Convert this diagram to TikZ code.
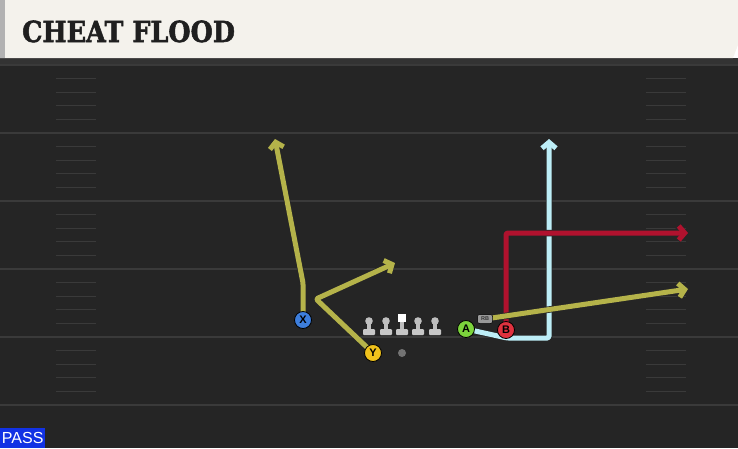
\documentclass[tikz,border=0pt]{standalone}
\usepackage{fontspec}
\usetikzlibrary{arrows.meta}
\newfontfamily\titlefont{DejaVu Serif}[BoldFeatures={FakeBold=2}]
\newfontfamily\tagfont{Liberation Sans}
\definecolor{headbg}{HTML}{F4F2EC}
\definecolor{fieldbg}{HTML}{252525}
\definecolor{yardline}{HTML}{3A3A3A}
\definecolor{hashline}{HTML}{3A3A3A}
\definecolor{rtyellow}{HTML}{B5B34A}
\definecolor{rtred}{HTML}{B0122E}
\definecolor{rtblue}{HTML}{BDEEF7}
\definecolor{pblue}{HTML}{3D7EDC}
\definecolor{pyellow}{HTML}{F0C21C}
\definecolor{pgreen}{HTML}{7CD43C}
\definecolor{pred}{HTML}{E0323F}
\definecolor{passblue}{HTML}{1232E4}
\pgfdeclarelayer{field}
\pgfdeclarelayer{routes}
\pgfsetlayers{field,routes,main}

\begin{document}
\begin{tikzpicture}[x=1pt,y=-1pt,
  player/.style={circle,draw=black,line width=0.8pt,minimum size=17pt,inner sep=0pt,
    font=\tagfont\bfseries\fontsize{11}{11}\selectfont},
  route/.style={line width=5pt,line join=round,rounded corners=1.5pt,
    -{Straight Barb[length=6pt,width=14pt]},
    preaction={draw=black!85,line width=6.5pt,-{Straight Barb[length=6pt,width=14pt]}}}]
\useasboundingbox (0,0) rectangle (738,448);

\begin{pgfonlayer}{field}
% field
\fill[fieldbg] (0,58) rectangle (738,448);
\fill[black!80] (0,58) rectangle (738,64);
% yard lines and hash marks
\draw[yardline,line width=1.5pt] (0,405) -- (738,405);
\foreach \yl in {65,133,201,269,337} {
  \draw[yardline,line width=1.5pt] (0,\yl) -- (738,\yl);
  \foreach \k in {1,2,3,4} {
    \draw[hashline,line width=1.2pt] (56,\yl+13.6*\k) -- (96,\yl+13.6*\k);
    \draw[hashline,line width=1.2pt] (646,\yl+13.6*\k) -- (686,\yl+13.6*\k);
  }
}
% header
\fill[headbg] (0,0) -- (738,0) -- (738,45) -- (733,58) -- (0,58) -- cycle;
\fill[black!30] (0,0) rectangle (5,58);
\end{pgfonlayer}

\node[anchor=base west,inner sep=0pt,text=black!88,xscale=0.88,
  font=\titlefont\bfseries\fontsize{29}{29}\selectfont] (title) at (22,42) {CHEAT FLOOD};

% line
\foreach \lx in {369,386,418,435} {
  \fill[black!25] (\lx,321) circle (3.8);
  \fill[black!25] (\lx-2,322) rectangle (\lx+2,330);
  \fill[black!22,rounded corners=1pt] (\lx-6,329) rectangle (\lx+6,335);
}
\fill[white] (398,314) rectangle (406,322);
\fill[black!25] (400,322) rectangle (404,330);
\fill[black!22,rounded corners=1pt] (396,329) rectangle (408,335);
\fill[black!55] (402,353) circle (4) node (ball) {};

% players
\node[player,fill=pblue] (X) at (303,320) {X};
\node[player,fill=pyellow] (Y) at (373,353) {Y};
\node[player,fill=pgreen] (A) at (466,329) {A};
\node[player,fill=pred] (B) at (506,330) {B};
\node[fill=black!40,draw=black,line width=0.5pt,rounded corners=2pt,inner sep=0pt,
  minimum width=15pt,minimum height=9pt,text=black!80,
  font=\tagfont\bfseries\fontsize{5.5}{5.5}\selectfont] (RB) at (485,319) {RB};

% route end points
\coordinate (xbreak) at (303,283);
\coordinate (xend) at (275,139);
\coordinate (ybreak) at (316,299);
\coordinate (yend) at (395,263);
\coordinate (abreak) at (507,338);
\coordinate (acorner) at (549,338);
\coordinate (aend) at (549,139);
\coordinate (bcorner) at (506,233);
\coordinate (bend) at (688,233);
\coordinate (rbend) at (688,289);

\begin{pgfonlayer}{routes}
\draw[route,rtyellow] (X.center) -- (xbreak) -- (xend);
\draw[route,rtyellow] (Y.center) -- (ybreak) -- (yend);
\draw[route,rtblue] (A.center) -- (abreak) -- (acorner) -- (aend);
\draw[route,rtred] (B.center) -- (bcorner) -- (bend);
\draw[route,rtyellow] (RB.center) -- (rbend);
\end{pgfonlayer}

% play type
\node[fill=passblue,anchor=south west,minimum width=45pt,minimum height=20pt,inner sep=0pt,
  text=white,font=\tagfont\fontsize{16}{16}\selectfont] (playtype) at (0,448) {PASS};

\end{tikzpicture}
\end{document}
